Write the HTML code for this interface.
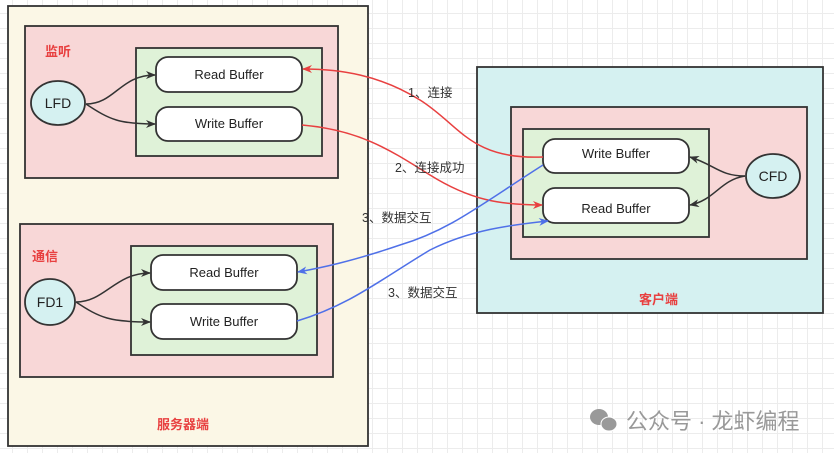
<!DOCTYPE html>
<html><head><meta charset="utf-8"><style>
html,body{margin:0;padding:0}
body{width:834px;height:453px;overflow:hidden;background-color:#fff;
background-image:linear-gradient(#ececec 1px,transparent 1px),linear-gradient(90deg,#ececec 1px,transparent 1px);
background-size:15px 15px;background-position:-3px -2px;position:relative;
font-family:"Liberation Sans","Noto Sans CJK SC",sans-serif}
</style></head><body>
<svg width="834" height="453" style="position:absolute;left:0;top:0" font-family="Liberation Sans, Noto Sans CJK SC, sans-serif">
<defs>
<marker id="ak" markerWidth="10" markerHeight="8" refX="9" refY="4" orient="auto" markerUnits="userSpaceOnUse"><path d="M0,0 L10,4 L0,8 L3,4z" fill="#333"/></marker>
<marker id="ar" markerWidth="10" markerHeight="8" refX="9" refY="4" orient="auto" markerUnits="userSpaceOnUse"><path d="M0,0 L10,4 L0,8 L3,4z" fill="#e84040"/></marker>
<marker id="ab" markerWidth="10" markerHeight="8" refX="9" refY="4" orient="auto" markerUnits="userSpaceOnUse"><path d="M0,0 L10,4 L0,8 L3,4z" fill="#4f70e8"/></marker>
</defs>
<g stroke="#333" stroke-width="1.8">
<rect x="8" y="6" width="360" height="440" fill="#fbf7e6"/>
<rect x="25" y="26" width="313" height="152" fill="#f8d7d7"/>
<rect x="136" y="48" width="186" height="108" fill="#dff2d8"/>
<rect x="156" y="57" width="146" height="35" rx="12" fill="#fff"/>
<rect x="156" y="107" width="146" height="34" rx="12" fill="#fff"/>
<ellipse cx="58" cy="103" rx="27" ry="22" fill="#d5f1f1"/>
<rect x="20" y="224" width="313" height="153" fill="#f8d7d7"/>
<rect x="131" y="246" width="186" height="109" fill="#dff2d8"/>
<rect x="151" y="255" width="146" height="35" rx="12" fill="#fff"/>
<rect x="151" y="304" width="146" height="35" rx="12" fill="#fff"/>
<ellipse cx="50" cy="302" rx="25" ry="23" fill="#d5f1f1"/>
<rect x="477" y="67" width="346" height="246" fill="#d5f1f1"/>
<rect x="511" y="107" width="296" height="152" fill="#f8d7d7"/>
<rect x="523" y="129" width="186" height="108" fill="#dff2d8"/>
<rect x="543" y="139" width="146" height="34" rx="12" fill="#fff"/>
<rect x="543" y="188" width="146" height="35" rx="12" fill="#fff"/>
<ellipse cx="773" cy="176" rx="27" ry="22" fill="#d5f1f1"/>
</g>
<g fill="none" stroke="#333" stroke-width="1.5">
<path d="M86,104 C115,104 120,75 155,75" marker-end="url(#ak)"/>
<path d="M86,104 C110,120 120,124 155,124" marker-end="url(#ak)"/>
<path d="M76,302 C105,302 115,273 150,273" marker-end="url(#ak)"/>
<path d="M76,302 C100,318 110,322 150,322" marker-end="url(#ak)"/>
<path d="M745,176 C720,176 715,165 690,157" marker-end="url(#ak)"/>
<path d="M745,176 C720,180 715,200 690,205" marker-end="url(#ak)"/>
</g>
<g fill="none" stroke-width="1.5">
<path d="M543,157 C470,160 460,125 420,100 C380,75 340,69 303,69" stroke="#e84040" marker-end="url(#ar)"/>
<path d="M302,125 C360,130 390,150 430,175 C470,200 500,205 542,205" stroke="#e84040" marker-end="url(#ar)"/>
<path d="M543,165 C480,205 450,230 400,245 C350,262 320,268 298,272" stroke="#4f70e8" marker-end="url(#ab)"/>
<path d="M297,321 C350,305 380,280 430,250 C470,230 510,225 548,221" stroke="#4f70e8" marker-end="url(#ab)"/>
</g>
<g font-size="13" fill="#222" text-anchor="middle">
<text x="229" y="79">Read Buffer</text>
<text x="229" y="128">Write Buffer</text>
<text x="224" y="277">Read Buffer</text>
<text x="224" y="326">Write Buffer</text>
<text x="616" y="158">Write Buffer</text>
<text x="616" y="213">Read Buffer</text>
<text x="58" y="108" font-size="14">LFD</text>
<text x="50" y="307" font-size="14">FD1</text>
<text x="773" y="181" font-size="14">CFD</text>
</g>
<g font-size="12.5" fill="#333">
<text x="408" y="97">1、连接</text>
<text x="395" y="172">2、连接成功</text>
<text x="362" y="222">3、数据交互</text>
<text x="388" y="297">3、数据交互</text>
</g>
<g font-size="13" fill="#e84040" font-weight="bold">
<text x="45" y="56">监听</text>
<text x="32" y="261">通信</text>
<text x="157" y="429">服务器端</text>
<text x="639" y="304">客户端</text>
</g>
<g fill="#999">
<ellipse cx="599" cy="417" rx="9" ry="8"/>
<ellipse cx="609" cy="424" rx="8" ry="7" stroke="#fff" stroke-width="1"/>
</g>
<text x="626" y="429" font-size="22" fill="#999">公众号 · 龙虾编程</text>
</svg>
</body></html>
